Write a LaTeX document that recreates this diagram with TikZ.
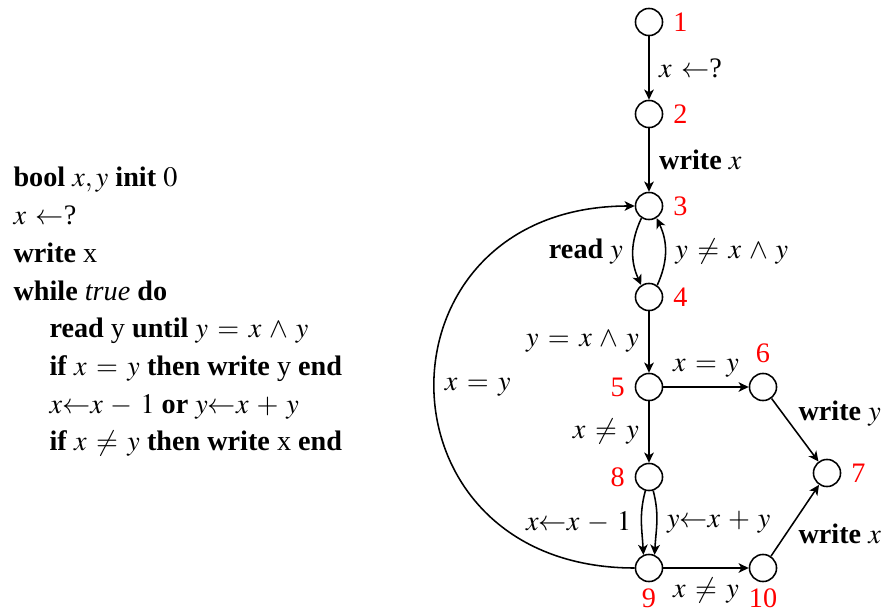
\documentclass[tikz,border=0pt]{standalone}
\usepackage{mathptmx}
\usepackage{fontspec}
\setmainfont{Liberation Serif}
\usetikzlibrary{arrows.meta,positioning}
\thickmuskip=6mu plus 3mu
\medmuskip=5mu plus 2mu

\begin{document}
\begin{tikzpicture}[
  x=0.3546pt, y=-0.3546pt,
  state/.style={draw, circle, line width=0.55pt, minimum size=9.6pt, inner sep=0pt},
  num/.style={text=red},
  code/.style={anchor=base west, inner sep=0pt},
  edge/.style={draw, line width=0.55pt, -{Stealth[length=3.6pt,width=3.4pt,inset=1pt]}}
]
\useasboundingbox (0,0) rectangle (883,611);
% program text
\node[code] (c1) at (13,187) {\textbf{bool} $x, y$ \textbf{init} $0$};
\node[code] (c2) at (13,224.7) {$x\leftarrow$?};
\node[code] (c3) at (13,262.4) {\textbf{write} x};
\node[code] (c4) at (13,300.1) {\textbf{while} \textit{true} \textbf{do}};
\node[code] (c5) at (49,337.8) {\textbf{read} y \textbf{until} $y = x \wedge y$};
\node[code] (c6) at (49,375.5) {\textbf{if} $x = y$ \textbf{then write} y \textbf{end}};
\node[code] (c7) at (49,413.2) {$x{\leftarrow}x-1$ \textbf{or} $y{\leftarrow}x+y$};
\node[code] (c8) at (49,450.9) {\textbf{if} $x \neq y$ \textbf{then write} x \textbf{end}};
% control flow graph
\node[state] (n1) at (649,22) {};
\node[state] (n2) at (649,114) {};
\node[state] (n3) at (649,206) {};
\node[state] (n4) at (649,297) {};
\node[state] (n5) at (649,387) {};
\node[state] (n6) at (763,387) {};
\node[state] (n7) at (827,473) {};
\node[state] (n8) at (649,477) {};
\node[state] (n9) at (649,568) {};
\node[state] (n10) at (763,568) {};
\node[num, right=0pt of n1] (l1) {1};
\node[num, right=0pt of n2] (l2) {2};
\node[num, right=0pt of n3] (l3) {3};
\node[num, right=0pt of n4] (l4) {4};
\node[num, left=0pt of n5] (l5) {5};
\node[num, above=0pt of n6] (l6) {6};
\node[num, right=0pt of n7] (l7) {7};
\node[num, left=0pt of n8] (l8) {8};
\node[num, below=-1.2pt of n9] (l9) {9};
\node[num, below=-1.2pt of n10] (l10) {10};
\draw[edge] (n1) -- node[right] {$x\leftarrow$?} (n2);
\draw[edge] (n2) -- node[right] {\textbf{write} $x$} (n3);
\draw[edge] (n3.238) to[bend right=25] node[left] {\textbf{read} $y$} (n4.123);
\draw[edge] (n4.55) to[bend right=25] node[right] {$y\neq x\wedge y$} (n3.-58);
\draw[edge] (n4) -- node[left] {$y=x\wedge y$} (n5);
\draw[edge] (n5) -- node[above] {$x=y$} (n6);
\draw[edge] (n5) -- node[left] {$x\neq y$} (n8);
\draw[edge] (n6) -- node[above right, inner sep=1pt] {\textbf{write} $y$} (n7);
\draw[edge] (n10) -- node[below right, inner sep=1pt] {\textbf{write} $x$} (n7);
\draw[edge] (n8.255) to[out=-105,in=93] node[left] {$x{\leftarrow}x-1$} (n9.113);
\draw[edge] (n8.287) to[out=-75,in=87] node[right] {$y{\leftarrow}x+y$} (n9.67);
\draw[edge] (n9) -- node[below] {$x\neq y$} (n10);
\draw[edge] (n9.west) .. controls (368,568) and (368,206) .. node[right] {$x=y$} (n3.west);
\end{tikzpicture}
\end{document}
